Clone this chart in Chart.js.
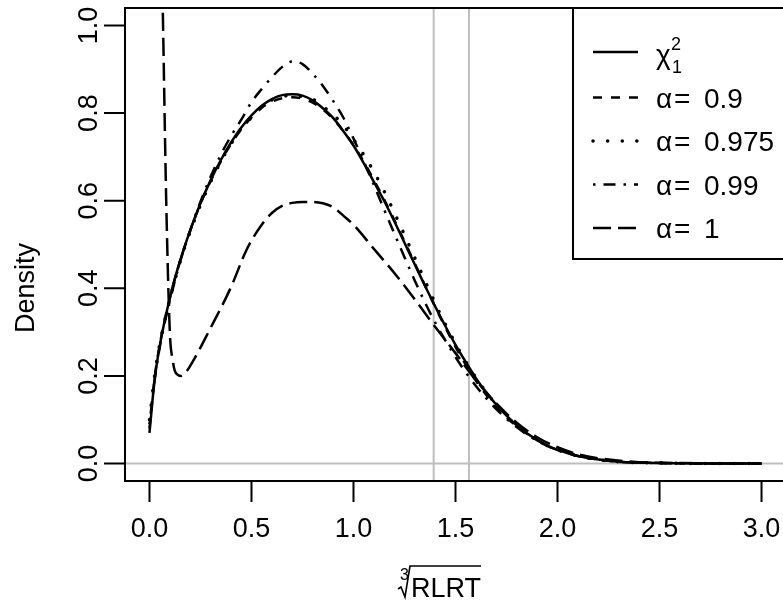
<!DOCTYPE html>
<html lang="en">
<head>
<meta charset="UTF-8">
<title>RLRT density</title>
<script src="https://cdn.jsdelivr.net/npm/chart.js"></script>
<style>
    html, body {
        margin: 0;
        padding: 0;
        overflow: hidden;
        background: #fff;
    }
    canvas {
        display: block;
    }
</style>
</head>
<body>
<canvas id="densityChart" width="790" height="600"></canvas>
<script>
    // x grid shared by the four smooth curves
    const xGrid = [0, 0.025, 0.05, 0.1, 0.15, 0.2, 0.25, 0.3, 0.35, 0.4, 0.45, 0.5, 0.55, 0.6, 0.65, 0.7, 0.75, 0.8, 0.85, 0.9,
        0.95, 1.0, 1.05, 1.1, 1.15, 1.2, 1.25, 1.3, 1.35, 1.4, 1.45, 1.5, 1.55, 1.6, 1.65, 1.7, 1.75, 1.8, 1.85, 1.9,
        1.95, 2.0, 2.1, 2.2, 2.3, 2.4, 2.5, 2.6, 2.8, 3.0];

    const chiSq1 = [0.07, 0.19, 0.268, 0.378, 0.463, 0.533, 0.594, 0.647, 0.693, 0.733, 0.767, 0.795, 0.817, 0.832, 0.841, 0.843, 0.840, 0.829, 0.811, 0.789,
        0.759, 0.726, 0.686, 0.643, 0.600, 0.553, 0.504, 0.455, 0.406, 0.359, 0.314, 0.271, 0.232, 0.195, 0.163, 0.134, 0.109, 0.087, 0.069, 0.054,
        0.041, 0.031, 0.017, 0.009, 0.004, 0.002, 0.001, 0.0003, 0, 0];

    const alpha090 = [0.08, 0.195, 0.27, 0.378, 0.462, 0.532, 0.593, 0.645, 0.69, 0.73, 0.763, 0.79, 0.812, 0.826, 0.834, 0.836, 0.833, 0.824, 0.808, 0.787,
        0.759, 0.727, 0.689, 0.647, 0.603, 0.556, 0.507, 0.457, 0.407, 0.358, 0.311, 0.266, 0.226, 0.189, 0.157, 0.129, 0.105, 0.085, 0.068, 0.053,
        0.041, 0.031, 0.017, 0.009, 0.004, 0.002, 0.001, 0.0003, 0, 0];

    const alpha0975 = [0.10, 0.2, 0.272, 0.375, 0.46, 0.53, 0.59, 0.643, 0.69, 0.73, 0.765, 0.79, 0.814, 0.83, 0.838, 0.84, 0.838, 0.832, 0.815, 0.797,
        0.772, 0.74, 0.705, 0.666, 0.622, 0.573, 0.522, 0.47, 0.418, 0.366, 0.318, 0.274, 0.233, 0.196, 0.163, 0.134, 0.108, 0.087, 0.069, 0.053,
        0.041, 0.031, 0.017, 0.009, 0.004, 0.002, 0.001, 0.0003, 0, 0];

    const alpha099 = [0.09, 0.19, 0.265, 0.372, 0.46, 0.533, 0.598, 0.655, 0.705, 0.748, 0.785, 0.825, 0.855, 0.882, 0.905, 0.918, 0.912, 0.89, 0.862, 0.828,
        0.79, 0.742, 0.69, 0.636, 0.58, 0.525, 0.471, 0.418, 0.368, 0.322, 0.281, 0.243, 0.208, 0.177, 0.149, 0.124, 0.102, 0.083, 0.066, 0.052,
        0.040, 0.031, 0.017, 0.009, 0.004, 0.002, 0.001, 0.0003, 0, 0];

    // alpha = 1 has its own grid because of the spike near zero
    const xAlpha1 = [0.058, 0.065, 0.082, 0.10, 0.114, 0.123, 0.14, 0.155, 0.175, 0.196, 0.3, 0.4, 0.475, 0.55, 0.6, 0.65, 0.7, 0.75, 0.8, 0.85,
        0.9, 0.95, 1.0, 1.1, 1.2, 1.3, 1.4, 1.5, 1.6, 1.7, 1.8, 1.9, 2.0, 2.1, 2.2, 2.4, 2.6, 2.8, 3.0];
    const alpha1 = [1.2, 1.04, 0.60, 0.297, 0.236, 0.213, 0.202, 0.2, 0.207, 0.22, 0.31, 0.403, 0.487, 0.545, 0.572, 0.588, 0.595, 0.597, 0.597, 0.594,
        0.585, 0.566, 0.545, 0.49, 0.435, 0.375, 0.312, 0.252, 0.19, 0.137, 0.093, 0.06, 0.037, 0.021, 0.012, 0.003, 0.001, 0, 0];

    const xTicks = [0, 0.5, 1, 1.5, 2, 2.5, 3];
    const xTickLabels = ['0.0', '0.5', '1.0', '1.5', '2.0', '2.5', '3.0'];
    const yTicks = [0, 0.2, 0.4, 0.6, 0.8, 1.0];
    const yTickLabels = ['0.0', '0.2', '0.4', '0.6', '0.8', '1.0'];
    const cutoffs = [1.393, 1.566];   // grey reference lines
    const alphaLabels = ['0.9', '0.975', '0.99', '1'];

    const FONT = '"Liberation Sans", Arial, Helvetica, sans-serif';

    function toPoints(xs, ys) {
        return xs.map((x, i) => ({ x: x, y: ys[i] }));
    }

    // R-style box, axes, legend and labels
    const rStyle = {
        id: 'rStyle',
        beforeDatasetsDraw(chart) {
            const { ctx, chartArea: a, scales: { x, y } } = chart;
            ctx.save();
            ctx.strokeStyle = '#bebebe';
            ctx.lineWidth = 2;
            ctx.beginPath();
            const y0 = y.getPixelForValue(0);
            ctx.moveTo(a.left, y0);
            ctx.lineTo(a.right, y0);
            cutoffs.forEach(c => {
                const px = x.getPixelForValue(c);
                ctx.moveTo(px, a.top);
                ctx.lineTo(px, a.bottom);
            });
            ctx.stroke();
            ctx.restore();
        },
        afterDatasetsDraw(chart) {
            const { ctx, chartArea: a, scales: { x, y } } = chart;
            ctx.save();
            ctx.strokeStyle = '#000';
            ctx.fillStyle = '#000';
            ctx.lineWidth = 2;
            ctx.setLineDash([]);

            // box
            ctx.strokeRect(a.left, a.top, a.right - a.left, a.bottom - a.top);

            // ticks
            ctx.beginPath();
            xTicks.forEach(v => {
                const px = x.getPixelForValue(v);
                ctx.moveTo(px, a.bottom);
                ctx.lineTo(px, a.bottom + 21);
            });
            yTicks.forEach(v => {
                const py = y.getPixelForValue(v);
                ctx.moveTo(a.left, py);
                ctx.lineTo(a.left - 21, py);
            });
            ctx.stroke();

            ctx.font = '27px ' + FONT;
            ctx.textAlign = 'center';
            ctx.textBaseline = 'alphabetic';
            xTicks.forEach((v, i) => {
                ctx.fillText(xTickLabels[i], x.getPixelForValue(v), 537);
            });
            yTicks.forEach((v, i) => {
                ctx.save();
                ctx.translate(97, y.getPixelForValue(v));
                ctx.rotate(-Math.PI / 2);
                ctx.fillText(yTickLabels[i], 0, 0);
                ctx.restore();
            });

            // y title
            ctx.save();
            ctx.translate(34, 288);
            ctx.rotate(-Math.PI / 2);
            ctx.fillText('Density', 0, 0);
            ctx.restore();

            // x title: cube root of RLRT
            ctx.textAlign = 'left';
            const word = 'RLRT';
            const tx = 411, base = 597;
            const ww = ctx.measureText(word).width;
            ctx.fillText(word, tx, base);
            ctx.lineWidth = 1.6;
            ctx.beginPath();
            ctx.moveTo(398, 589);
            ctx.lineTo(401, 587);
            ctx.lineTo(405, 597);
            ctx.lineTo(410, 566);
            ctx.lineTo(tx + ww, 566);
            ctx.stroke();
            ctx.font = '16px ' + FONT;
            ctx.fillText('3', 400, 580);

            // legend
            const lx = 573, ly = a.top, lw = 240, lh = 251;
            ctx.fillStyle = '#fff';
            ctx.fillRect(lx, ly, lw, lh);
            ctx.fillStyle = '#000';
            ctx.lineWidth = 2;
            ctx.strokeRect(lx, ly, lw, lh);
            const rows = [52, 97.5, 141, 184.5, 228];
            chart.data.datasets.forEach((ds, i) => {
                ctx.save();
                ctx.lineWidth = ds.borderWidth;
                ctx.lineCap = ds.borderCapStyle || 'butt';
                ctx.setLineDash(ds.borderDash || []);
                ctx.beginPath();
                ctx.moveTo(593, rows[i]);
                ctx.lineTo(638, rows[i]);
                ctx.stroke();
                ctx.restore();
            });
            ctx.font = '28px ' + FONT;
            ctx.fillText('\u03C7', 656, 64);
            ctx.font = '18px ' + FONT;
            ctx.fillText('2', 671, 50);
            ctx.fillText('1', 672, 73);
            ctx.font = '28px ' + FONT;
            alphaLabels.forEach((lab, i) => {
                const b = rows[i + 1] + 10;
                ctx.fillText('\u03B1', 656, b);
                ctx.fillText('=', 674, b);
                ctx.fillText(lab, 704, b);
            });
            ctx.restore();
        }
    };

    const chart = new Chart(document.getElementById('densityChart'), {
        type: 'line',
        data: {
            datasets: [
                { label: 'chi2_1', data: toPoints(xGrid, chiSq1), borderColor: '#000', borderWidth: 2.5, borderDash: [] },
                { label: 'alpha = 0.9', data: toPoints(xGrid, alpha090), borderColor: '#000', borderWidth: 2.5, borderDash: [9, 9] },
                { label: 'alpha = 0.975', data: toPoints(xGrid, alpha0975), borderColor: '#000', borderWidth: 3.5, borderDash: [0.1, 14.5], borderCapStyle: 'round' },
                { label: 'alpha = 0.99', data: toPoints(xGrid, alpha099), borderColor: '#000', borderWidth: 2.5, borderDash: [2.5, 8, 12, 8] },
                { label: 'alpha = 1', data: toPoints(xAlpha1, alpha1), borderColor: '#000', borderWidth: 2.5, borderDash: [18, 7] }
            ]
        },
        options: {
            responsive: false,
            animation: false,
            layout: { padding: { left: 125, top: 8, right: 4, bottom: 119 } },
            elements: {
                point: { radius: 0 },
                line: { cubicInterpolationMode: 'monotone', fill: false }
            },
            scales: {
                x: { type: 'linear', min: -0.12, max: 3.12, display: false },
                y: { type: 'linear', min: -0.04, max: 1.04, display: false }
            },
            plugins: {
                legend: { display: false },
                tooltip: { enabled: false }
            }
        },
        plugins: [rStyle]
    });
</script>
</body>
</html>
